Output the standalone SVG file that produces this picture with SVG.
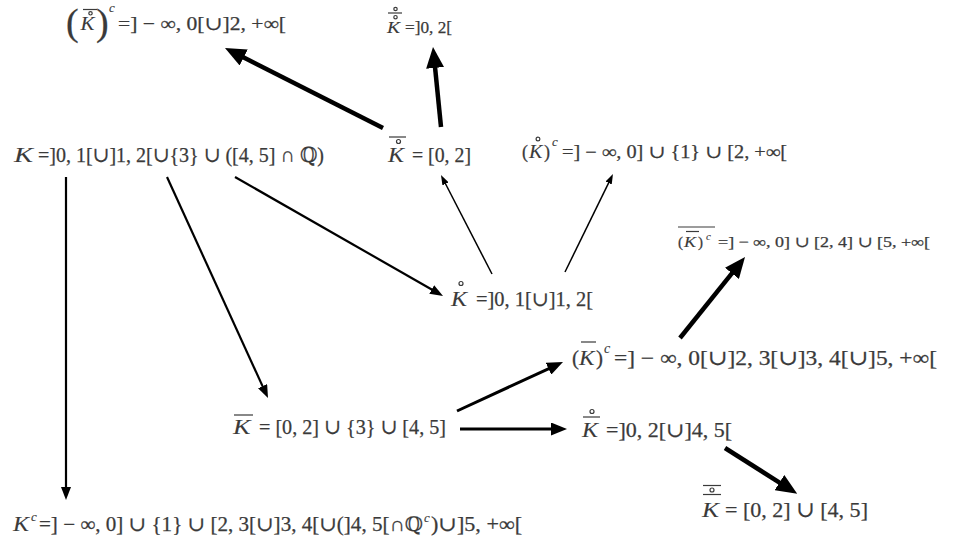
<svg xmlns="http://www.w3.org/2000/svg" width="962" height="552" viewBox="0 0 962 552">
<style>
.t{font-family:"Liberation Serif","DejaVu Serif","DejaVu Sans",serif;fill:#3a3a3a;stroke:#3a3a3a;stroke-width:0.25}
.i{font-style:italic;stroke-width:0.1}
.acc{stroke:#3a3a3a;stroke-width:1.2;fill:none}
.c{fill:#000;stroke:none}
.lb{stroke:#000;stroke-width:4.5;fill:none}
.lm{stroke:#000;stroke-width:3;fill:none}
.lr{stroke:#000;stroke-width:2.2;fill:none}
.ls{stroke:#000;stroke-width:1.5;fill:none}
</style>
<defs>
<marker id="hb" markerUnits="userSpaceOnUse" markerWidth="21" markerHeight="18" refX="1" refY="9" orient="auto" viewBox="0 0 21 18"><path class="c" d="M0,0 L21,9 L0,18 z"/></marker>
<marker id="hm" markerUnits="userSpaceOnUse" markerWidth="16" markerHeight="13" refX="1" refY="6.5" orient="auto" viewBox="0 0 16 13"><path class="c" d="M0,0 L16,6.5 L0,13 z"/></marker>
<marker id="hr" markerUnits="userSpaceOnUse" markerWidth="13" markerHeight="10" refX="1" refY="5" orient="auto" viewBox="0 0 13 10"><path class="c" d="M0,0 L13,5 L0,10 z"/></marker>
<marker id="hs" markerUnits="userSpaceOnUse" markerWidth="10" markerHeight="7" refX="1" refY="3.5" orient="auto" viewBox="0 0 10 7"><path class="c" d="M0,0 L10,3.5 L0,7 z"/></marker>
</defs>

<g id="connectors">
<line class="lb" x1="383" y1="128" x2="242.8" y2="57" marker-end="url(#hb)"/>
<line class="lb" x1="441" y1="127" x2="435" y2="66.9" marker-end="url(#hb)"/>
<line class="lb" x1="680" y1="338" x2="732.5" y2="272.6" marker-end="url(#hb)"/>
<line class="lb" x1="725" y1="448" x2="780.3" y2="483.1" marker-end="url(#hb)"/>
<line class="lm" x1="457" y1="411" x2="549.4" y2="368.3" marker-end="url(#hm)"/>
<line class="lm" x1="460" y1="429" x2="552" y2="429" marker-end="url(#hm)"/>
<line class="lr" x1="66" y1="177" x2="66" y2="488" marker-end="url(#hr)"/>
<line class="lr" x1="167" y1="177" x2="263" y2="387.1" marker-end="url(#hr)"/>
<line class="lr" x1="235" y1="177" x2="432.6" y2="290" marker-end="url(#hr)"/>
<line class="ls" x1="492" y1="274" x2="445.1" y2="183" marker-end="url(#hs)"/>
<line class="ls" x1="565" y1="272" x2="609" y2="182.1" marker-end="url(#hs)"/>
</g>

<g id="n_comp_closure_interior">
<text class="t" x="66" y="35" font-size="38" stroke-width="0">(</text>
<line class="acc" x1="83" y1="9.5" x2="97" y2="9.5"/>
<circle class="acc" cx="90.5" cy="13.3" r="1.7"/>
<text class="t i" x="80.5" y="30" font-size="19" textLength="14" lengthAdjust="spacingAndGlyphs">K</text>
<text class="t" x="96" y="35" font-size="38" stroke-width="0">)</text>
<text class="t i" x="109" y="12" font-size="13">c</text>
<text class="t" x="118" y="30" font-size="19" textLength="168" lengthAdjust="spacingAndGlyphs">=] − ∞, 0[∪]2, +∞[</text>
</g>

<g id="n_interior_closure_interior">
<circle class="acc" cx="395.5" cy="9" r="1.7"/>
<line class="acc" x1="388" y1="13" x2="402" y2="13"/>
<circle class="acc" cx="395.5" cy="17.2" r="1.7"/>
<text class="t i" x="387" y="33" font-size="17" textLength="13" lengthAdjust="spacingAndGlyphs">K</text>
<text class="t" x="405" y="33" font-size="17" textLength="47" lengthAdjust="spacingAndGlyphs">=]0, 2[</text>
</g>

<g id="n_K">
<text class="t i" x="14" y="162" font-size="22" textLength="19" lengthAdjust="spacingAndGlyphs">K</text>
<text class="t" x="38" y="162" font-size="21" textLength="286" lengthAdjust="spacingAndGlyphs">=]0, 1[∪]1, 2[∪{3} ∪ ([4, 5] ∩ ℚ)</text>
</g>

<g id="n_closure_interior">
<line class="acc" x1="389" y1="137" x2="406" y2="137"/>
<circle class="acc" cx="398.5" cy="141.5" r="2"/>
<text class="t i" x="388" y="162" font-size="20" textLength="16" lengthAdjust="spacingAndGlyphs">K</text>
<text class="t" x="412" y="162" font-size="20" textLength="59" lengthAdjust="spacingAndGlyphs">= [0, 2]</text>
</g>

<g id="n_comp_interior">
<text class="t" x="522" y="158" font-size="18">(</text>
<circle class="acc" cx="538" cy="139" r="1.9"/>
<text class="t i" x="529" y="158" font-size="18" textLength="13.5" lengthAdjust="spacingAndGlyphs">K</text>
<text class="t" x="544" y="158" font-size="18">)</text>
<text class="t i" x="552" y="146" font-size="13">c</text>
<text class="t" x="562" y="158" font-size="18" textLength="225" lengthAdjust="spacingAndGlyphs">=] − ∞, 0] ∪ {1} ∪ [2, +∞[</text>
</g>

<g id="n_interior">
<circle class="acc" cx="461" cy="283.5" r="2"/>
<text class="t i" x="451" y="306" font-size="20" textLength="16" lengthAdjust="spacingAndGlyphs">K</text>
<text class="t" x="476" y="306" font-size="20" textLength="117" lengthAdjust="spacingAndGlyphs">=]0, 1[∪]1, 2[</text>
</g>

<g id="n_closure_comp_closure">
<line class="acc" x1="678" y1="227" x2="715" y2="227"/>
<text class="t" x="678" y="247" font-size="15">(</text>
<line class="acc" x1="686" y1="231.5" x2="699" y2="231.5"/>
<text class="t i" x="684" y="247" font-size="15" textLength="12" lengthAdjust="spacingAndGlyphs">K</text>
<text class="t" x="698" y="247" font-size="15">)</text>
<text class="t i" x="706" y="240" font-size="11">c</text>
<text class="t" x="718" y="247" font-size="15" textLength="212" lengthAdjust="spacingAndGlyphs">=] − ∞, 0] ∪ [2, 4] ∪ [5, +∞[</text>
</g>

<g id="n_comp_closure">
<text class="t" x="572" y="365" font-size="21">(</text>
<line class="acc" x1="581" y1="342" x2="596" y2="342"/>
<text class="t i" x="579" y="365" font-size="21" textLength="15.5" lengthAdjust="spacingAndGlyphs">K</text>
<text class="t" x="596" y="365" font-size="21">)</text>
<text class="t i" x="604" y="353" font-size="14">c</text>
<text class="t" x="614" y="365" font-size="21" textLength="323" lengthAdjust="spacingAndGlyphs">=] − ∞, 0[∪]2, 3[∪]3, 4[∪]5, +∞[</text>
</g>

<g id="n_closure">
<line class="acc" x1="234" y1="415" x2="253" y2="415"/>
<text class="t i" x="233" y="434" font-size="21" textLength="17.5" lengthAdjust="spacingAndGlyphs">K</text>
<text class="t" x="259" y="434" font-size="21" textLength="187" lengthAdjust="spacingAndGlyphs">= [0, 2] ∪ {3} ∪ [4, 5]</text>
</g>

<g id="n_interior_closure">
<circle class="acc" cx="592" cy="411.5" r="2"/>
<line class="acc" x1="583" y1="417" x2="600" y2="417"/>
<text class="t i" x="582" y="437" font-size="20" textLength="16" lengthAdjust="spacingAndGlyphs">K</text>
<text class="t" x="606" y="437" font-size="20" textLength="126" lengthAdjust="spacingAndGlyphs">=]0, 2[∪]4, 5[</text>
</g>

<g id="n_closure_interior_closure">
<line class="acc" x1="703" y1="485.5" x2="721" y2="485.5"/>
<circle class="acc" cx="712" cy="490" r="2"/>
<line class="acc" x1="703" y1="494.5" x2="721" y2="494.5"/>
<text class="t i" x="702" y="517" font-size="22" textLength="17" lengthAdjust="spacingAndGlyphs">K</text>
<text class="t" x="725" y="517" font-size="22" textLength="143" lengthAdjust="spacingAndGlyphs">= [0, 2] ∪ [4, 5]</text>
</g>

<g id="n_comp">
<text class="t i" x="13" y="531" font-size="20" textLength="16" lengthAdjust="spacingAndGlyphs">K</text>
<text class="t i" x="31" y="521" font-size="13">c</text>
<text class="t" x="39" y="531" font-size="20" textLength="384" lengthAdjust="spacingAndGlyphs">=] − ∞, 0] ∪ {1} ∪ [2, 3[∪]3, 4[∪(]4, 5[∩ℚ</text>
<text class="t i" x="424" y="522" font-size="13">c</text>
<text class="t" x="431" y="531" font-size="20" textLength="91" lengthAdjust="spacingAndGlyphs">)∪]5, +∞[</text>
</g>
</svg>
